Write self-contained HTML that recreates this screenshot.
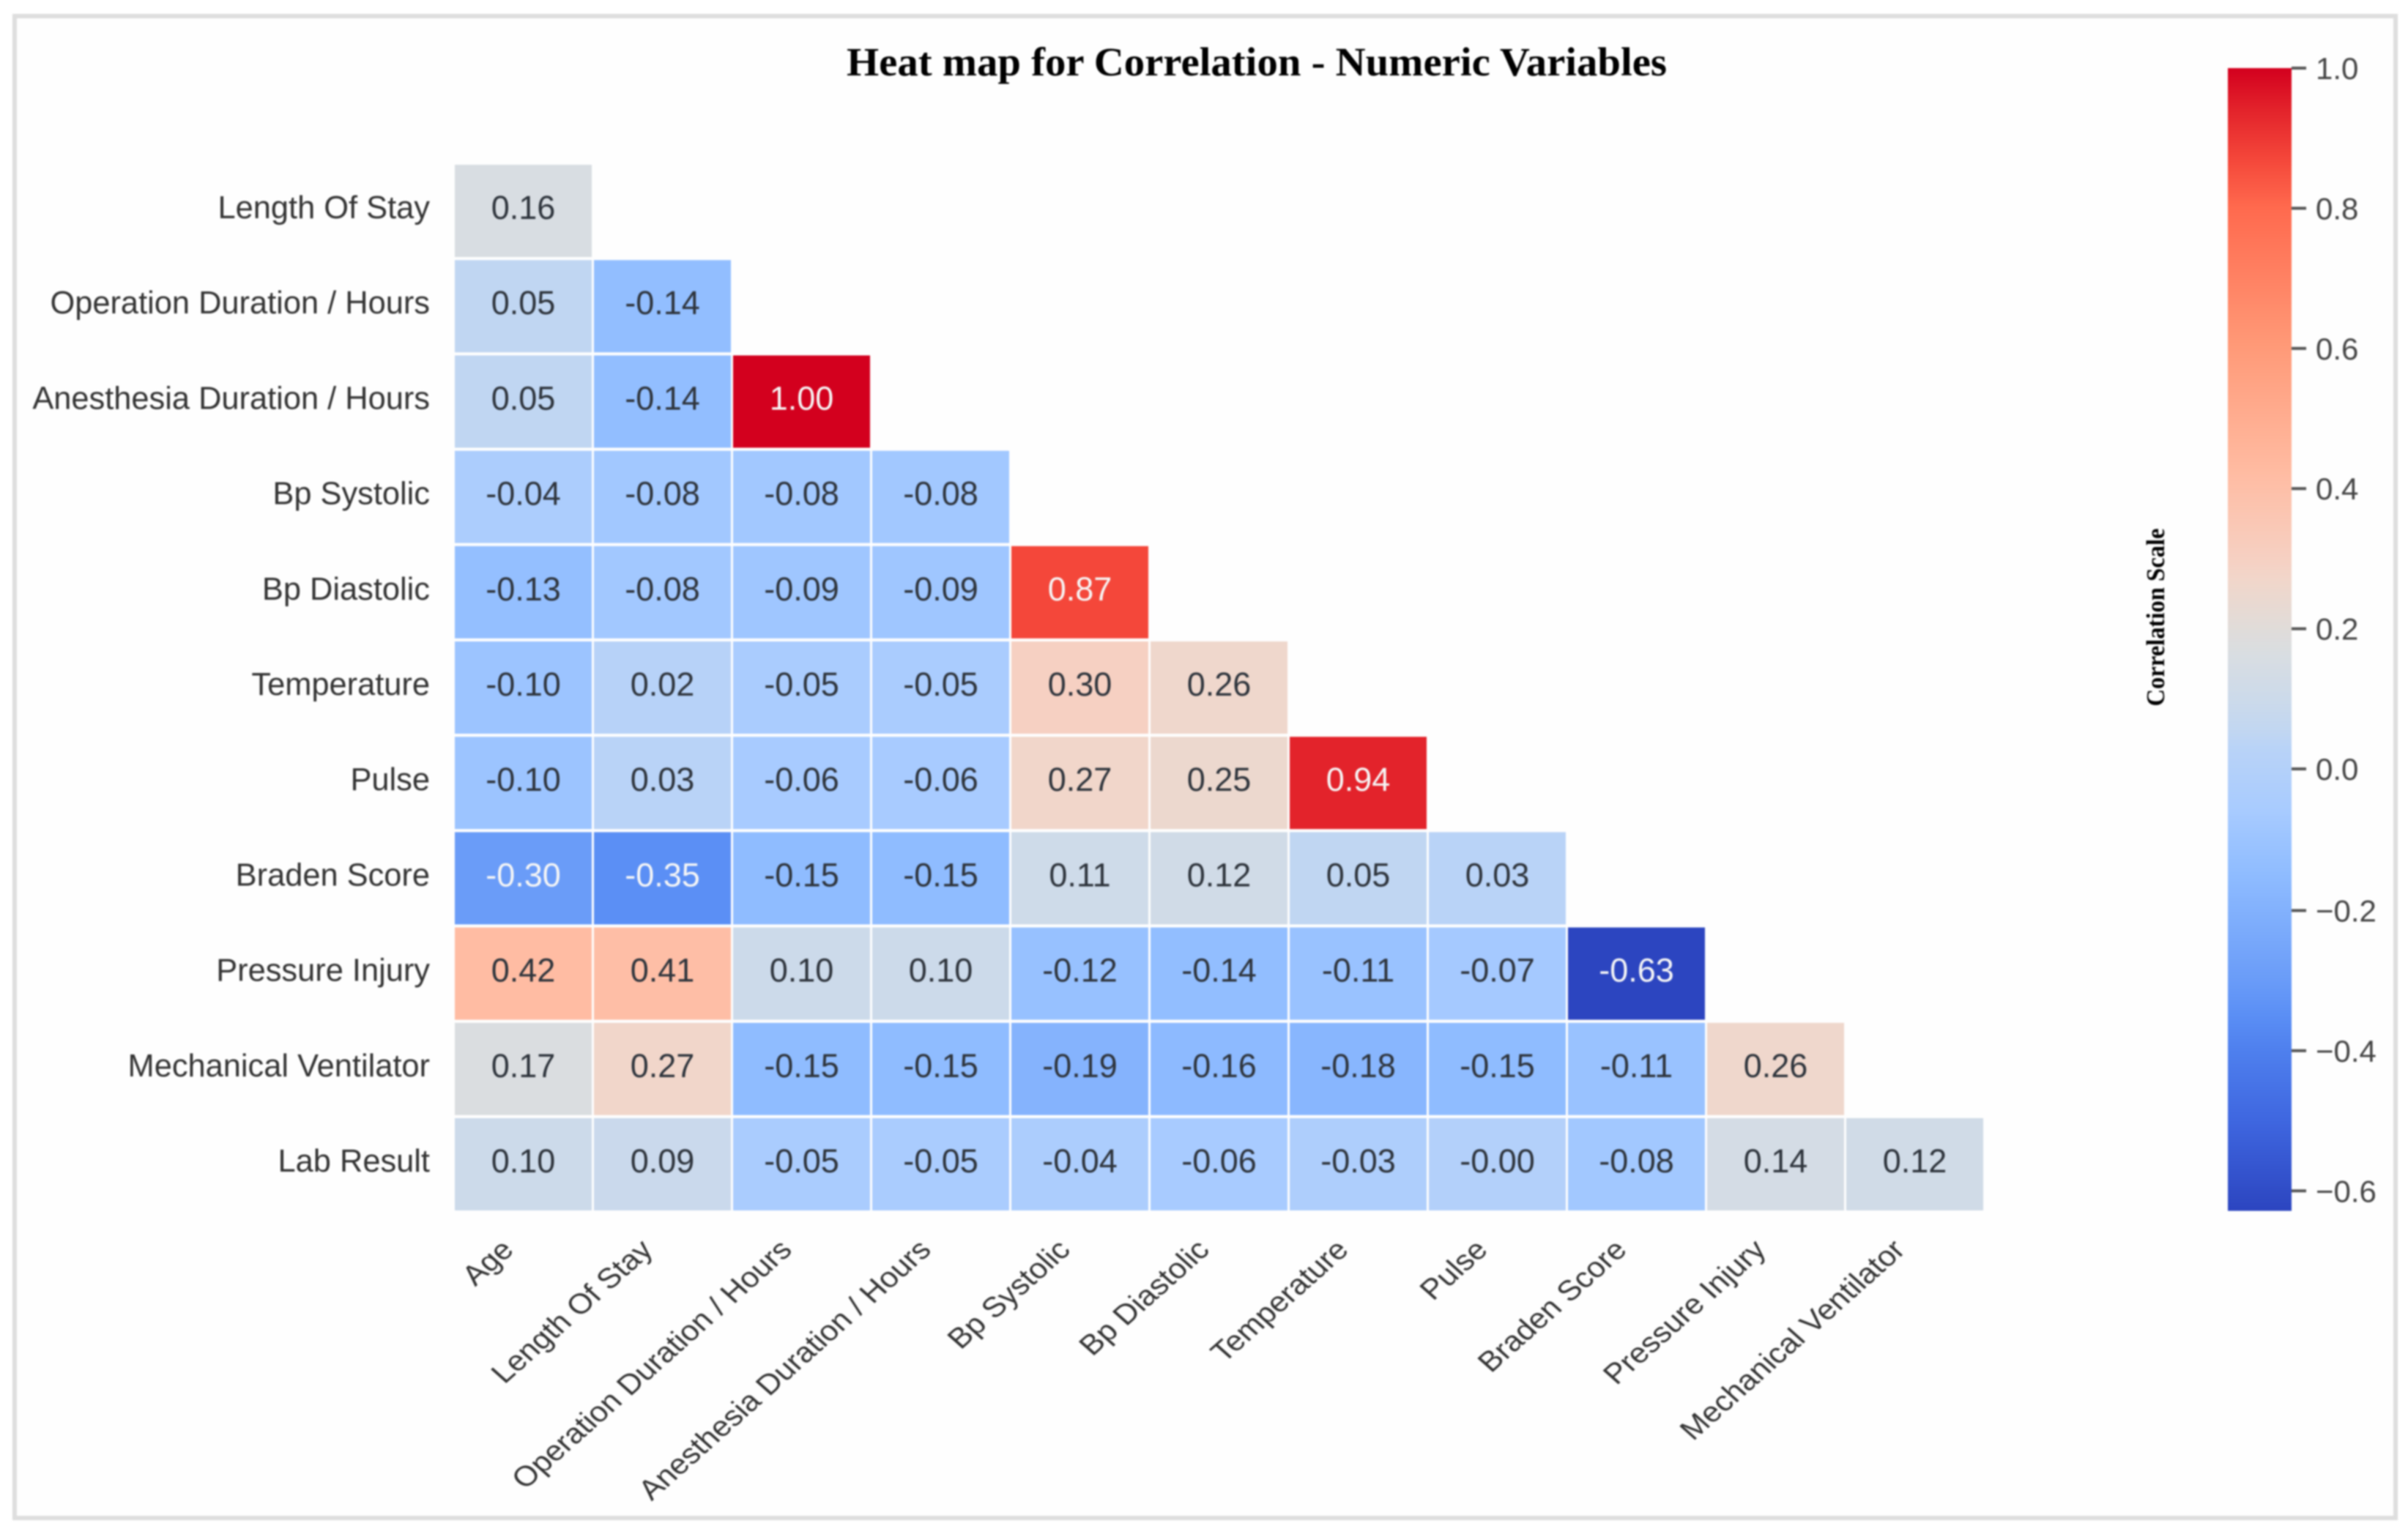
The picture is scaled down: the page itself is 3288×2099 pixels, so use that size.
<!DOCTYPE html>
<html lang="en">
<head>
<meta charset="utf-8">
<title>Heat map for Correlation - Numeric Variables</title>
<style>
html,body{margin:0;padding:0;background:#fff;}
body{width:3288px;height:2099px;overflow:hidden;}
svg{display:block;filter:blur(1px);}
text{font-family:"Liberation Sans",Arial,sans-serif;}
.serif{font-family:"Liberation Serif","Times New Roman",serif;font-weight:bold;fill:#000;}
</style>
</head>
<body>
<svg id="chart" xmlns="http://www.w3.org/2000/svg" width="3288" height="2099" viewBox="0 0 3288 2099">
  <rect x="20" y="22" width="3251" height="2051" fill="#fefefe" stroke="#dedede" stroke-width="6"/>
  <text class="serif" x="1716" y="103" text-anchor="middle" font-size="55" textLength="1120" lengthAdjust="spacingAndGlyphs">Heat map for Correlation - Numeric Variables</text>
  <g id="cells"></g>
  <g id="yLabels"></g>
  <g id="xLabels"></g>
  <g id="colorbar"></g>
  <text class="serif" transform="translate(2955 843) rotate(-90)" text-anchor="middle" font-size="35" textLength="243" lengthAdjust="spacingAndGlyphs">Correlation Scale</text>
</svg>
<script>
const xCategories = ["Age","Length Of Stay","Operation Duration / Hours","Anesthesia Duration / Hours","Bp Systolic","Bp Diastolic","Temperature","Pulse","Braden Score","Pressure Injury","Mechanical Ventilator"];
const yCategories = ["Length Of Stay","Operation Duration / Hours","Anesthesia Duration / Hours","Bp Systolic","Bp Diastolic","Temperature","Pulse","Braden Score","Pressure Injury","Mechanical Ventilator","Lab Result"];
const rowLengthOfStay = [0.16];
const rowOperationDuration = [0.05,-0.14];
const rowAnesthesiaDuration = [0.05,-0.14,1.00];
const rowBpSystolic = [-0.04,-0.08,-0.08,-0.08];
const rowBpDiastolic = [-0.13,-0.08,-0.09,-0.09,0.87];
const rowTemperature = [-0.10,0.02,-0.05,-0.05,0.30,0.26];
const rowPulse = [-0.10,0.03,-0.06,-0.06,0.27,0.25,0.94];
const rowBradenScore = [-0.30,-0.35,-0.15,-0.15,0.11,0.12,0.05,0.03];
const rowPressureInjury = [0.42,0.41,0.10,0.10,-0.12,-0.14,-0.11,-0.07,-0.63];
const rowMechanicalVentilator = [0.17,0.27,-0.15,-0.15,-0.19,-0.16,-0.18,-0.15,-0.11,0.26];
const rowLabResult = [0.10,0.09,-0.05,-0.05,-0.04,-0.06,-0.03,-0.004,-0.08,0.14,0.12];
const colorbarTicks = [1.0,0.8,0.6,0.4,0.2,0.0,-0.2,-0.4,-0.6];
const colormapValues = [-0.63,-0.5,-0.4,-0.35,-0.3,-0.15,-0.1,-0.06,0.03,0.05,0.1,0.16,0.2,0.27,0.3,0.42,0.6,0.8,0.87,0.94,1.0];
const colormapColors = ["#2c45c0","#3f67e0","#4f80ee","#5b8ff5","#6a9cf8","#8fbcff","#9cc4ff","#a8cbff","#b9d3f7","#c0d6f2","#ccdaea","#d8dde2","#e0dcd9","#f1d6ca","#f6d0c2","#ffbca3","#ff9a78","#ff6a4e","#f4473a","#e3232b","#d3001e"];
const matrix = [rowLengthOfStay,rowOperationDuration,rowAnesthesiaDuration,rowBpSystolic,rowBpDiastolic,rowTemperature,rowPulse,rowBradenScore,rowPressureInjury,rowMechanicalVentilator,rowLabResult];

const NS = "http://www.w3.org/2000/svg";
const colX = i => 621 + i * 190;
const rowY = i => 225 + i * 130.2;
const cellW = 187, cellH = 126;
const barTop = 93, barBottom = 1653, barLeft = 3042, barWidth = 87;
const valueMax = 1.0, valueMin = -0.63;
const barY = v => barTop + (valueMax - v) / (valueMax - valueMin) * (barBottom - barTop) + (v < 0 ? 2 : 0);

function hexToRgb(h){return [1,3,5].map(k=>parseInt(h.substr(k,2),16));}
function colorFor(v){
  if(v<=colormapValues[0])return colormapColors[0];
  for(let k=1;k<colormapValues.length;k++){
    if(v<=colormapValues[k]){
      const t=(v-colormapValues[k-1])/(colormapValues[k]-colormapValues[k-1]);
      const a=hexToRgb(colormapColors[k-1]),b=hexToRgb(colormapColors[k]);
      return "rgb("+a.map((c,n)=>Math.round(c+(b[n]-c)*t)).join(",")+")";
    }
  }
  return colormapColors[colormapColors.length-1];
}
function make(tag,attrs,parent,txt){
  const el=document.createElementNS(NS,tag);
  for(const k in attrs)el.setAttribute(k,attrs[k]);
  if(txt!==undefined)el.textContent=txt;
  parent.appendChild(el);
  return el;
}
const cellsG=document.getElementById("cells");
const yG=document.getElementById("yLabels");
const xG=document.getElementById("xLabels");
const cbG=document.getElementById("colorbar");

matrix.forEach((row,r)=>{
  const lab=make("text",{x:587,y:rowY(r)+cellH/2+10,"text-anchor":"end","font-size":43.4,fill:"#333"},yG,yCategories[r]);
  
  
  row.forEach((v,c)=>{
    const rect=make("rect",{x:colX(c),y:rowY(r),width:cellW,height:cellH,fill:colorFor(v)},cellsG);
    
    
    const light=v>0.6||v<-0.25;
    const t=make("text",{x:colX(c)+cellW/2,y:rowY(r)+cellH/2+11,"text-anchor":"middle","font-size":45,fill:light?"#f6f6f6":"#2e343c"},cellsG,v.toFixed(2));
    
    
  });
});

xCategories.forEach((name,c)=>{
  const ex=colX(c)+cellW/2-11, ey=1709;
  const t=make("text",{x:0,y:0,"text-anchor":"end","font-size":43.4,fill:"#333",transform:"translate("+ex+" "+ey+") scale(1 0.89) rotate(-45)"},xG,name);
  
  
});

const steps=Math.round(barBottom-barTop);
for(let s=0;s<steps;s+=2){
  const v=valueMax-(s+1)/steps*(valueMax-valueMin);
  const seg=make("rect",{x:barLeft,y:barTop+s,width:barWidth,height:2.6,fill:colorFor(v)},cbG);
  
  
}
colorbarTicks.forEach(v=>{
  const y=barY(v);
  const tick=make("rect",{x:barLeft+barWidth,y:y-2,width:20,height:4,fill:"#555"},cbG);
  
  
  const lab=make("text",{x:3162,y:y+15,"font-size":42,fill:"#444"},cbG,v.toFixed(1).replace("-","\u2212"));
  
  
});
</script>
</body>
</html>
